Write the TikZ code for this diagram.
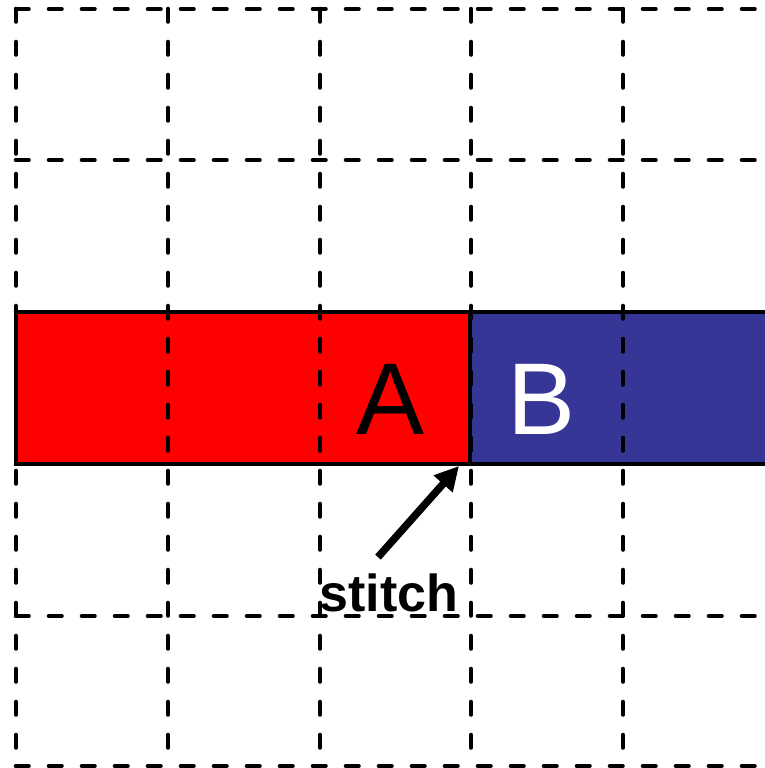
\documentclass[tikz,border=0pt]{standalone}
\usepackage{fontspec}
\setmainfont{Liberation Sans}
\usetikzlibrary{arrows.meta}
\definecolor{patchred}{RGB}{255,0,0}
\definecolor{patchblue}{RGB}{54,54,150}
\tikzset{
  gridline/.style={line width=4.6pt, line cap=round, dash pattern=on 12.5pt off 20.5pt},
  patchedge/.style={line width=4.2pt},
  biglabel/.style={font=\fontsize{102}{102}\selectfont, inner sep=0pt},
}
\begin{document}
\begin{tikzpicture}[x=1pt,y=-1pt]
  \useasboundingbox (0,0) rectangle (765,768);
  % the two patches
  \fill[patchred] (16,312) rectangle (470,464);
  \fill[patchblue] (470,312) rectangle (767,464);
  % dashed grid
  \foreach \gx in {16,168,320,471,623}
    \draw[gridline] (\gx,9) -- (\gx,768);
  \foreach \gy in {9,160,312,464,616,766}
    \draw[gridline] (16,\gy) -- (768,\gy);
  % patch outlines
  \draw[patchedge] (16,312) rectangle (470,464);
  \draw[patchedge] (470,312) -- (767,312);
  \draw[patchedge] (470,464) -- (767,464);
  % labels
  \node[biglabel] (a) at (391,399) {A};
  \node[biglabel, text=white] (b) at (542,399) {B};
  \node[font=\fontsize{52}{52}\selectfont\bfseries, inner sep=0pt, anchor=base] (st) at (389,611) {stitch};
  \coordinate (corner) at (459,466);
  \draw[line width=7.5pt, -{Triangle[length=24pt,width=24pt]}] ([xshift=-11pt,yshift=16pt]st.north) -- (corner);
\end{tikzpicture}
\end{document}
